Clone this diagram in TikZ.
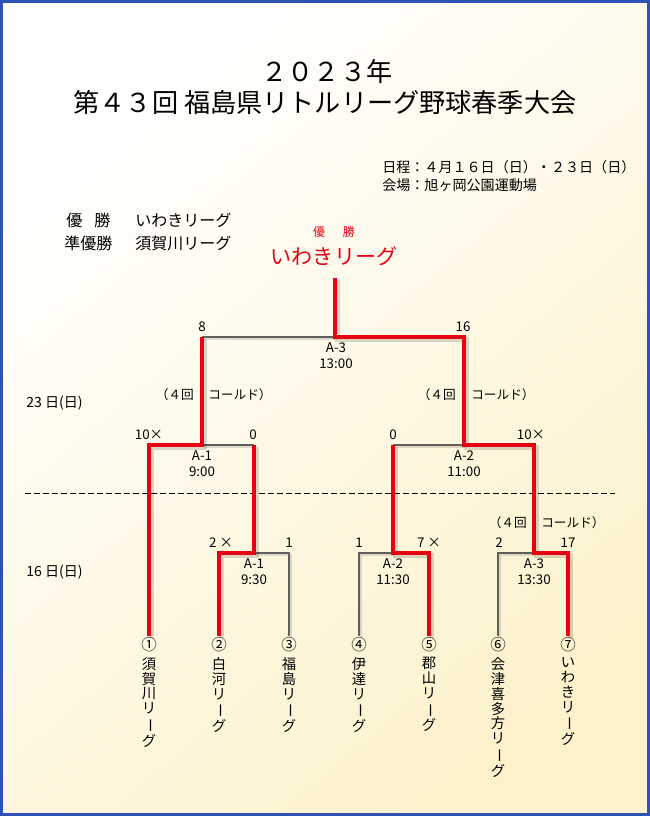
\documentclass[tikz,border=0pt]{standalone}
\usepackage{fontspec}
\setmainfont{Noto Sans CJK JP}
\usepackage{graphicx}

\definecolor{winred}{RGB}{230,0,18}
\definecolor{losegray}{RGB}{95,95,95}
\definecolor{frameblue}{RGB}{46,83,181}
\definecolor{paper}{RGB}{253,242,204}

% vertical long-vowel mark for the upright team names
\newcommand{\bou}{\rotatebox[origin=c]{-90}{ー}}

\begin{document}
\begin{tikzpicture}[
  x=0.025cm, y=-0.025cm,
  win/.style={
    draw=winred, line width=3.2pt,
    preaction={draw=black, opacity=.15, line width=3.6pt,
      transform canvas={xshift=1.5pt, yshift=-1.5pt}}
  },
  lose/.style={
    draw=losegray, line width=1.1pt,
    preaction={draw=black, opacity=.12, line width=1.6pt,
      transform canvas={xshift=1.2pt, yshift=-1.2pt}}
  },
  title/.style={font=\fontsize{18.6}{18.6}\selectfont, inner sep=0pt},
  info/.style={font=\fontsize{10}{10}\selectfont, anchor=west, inner sep=0pt},
  result/.style={font=\fontsize{11.4}{11.4}\selectfont, anchor=west, inner sep=0pt},
  day/.style={font=\fontsize{10}{10}\selectfont, anchor=west, inner sep=0pt},
  score/.style={font=\fontsize{9.5}{9.5}\selectfont, anchor=south, inner sep=1pt},
  match/.style={font=\fontsize{9.5}{11.4}\selectfont, align=center, anchor=north, inner sep=1pt},
  called/.style={font=\fontsize{9}{9}\selectfont, inner sep=0pt},
  num/.style={font=\fontsize{11}{11}\selectfont, inner sep=1pt},
  team/.style={font=\fontsize{10.2}{10.6}\selectfont, align=center, anchor=north, inner sep=0pt},
]
\useasboundingbox (0,0) rectangle (650,816);

% Paper and frame
\shade[top color=white, bottom color=paper, shading angle=40] (0,0) rectangle (650,816);
\draw[frameblue, line width=2.4pt] (1.6,1.6) rectangle (648.4,814.4);

% Title
\node[title] (year) at (327,72) {２０２３年};
\node[title] (event) at (325,103) {第４３回 福島県リトルリーグ野球春季大会};

% Date and venue
\node[info] (date) at (382,167) {日程：４月１６日（日）・２３日（日）};
\node[info] (venue) at (382,185) {会場：旭ヶ岡公園運動場};

% Final standings
\node[result] (winlbl) at (64,220) {\makebox[3em]{優\hspace{.75em}勝}};
\node[result] (winname) at (135,220) {いわきリーグ};
\node[result] (runlbl) at (64,243) {準優勝};
\node[result] (runname) at (135,243) {須賀川リーグ};

% Champion
\node[text=winred, font=\fontsize{8.5}{8.5}\selectfont, inner sep=0pt] (champlbl) at (334,232) {優\hspace{1.5em}勝};
\node[text=winred, font=\fontsize{15}{15}\selectfont, inner sep=0pt] (champ) at (334,256) {いわきリーグ};

% Day labels and divider
\node[day] (day2) at (26,403) {23 日(日)};
\node[day] (day1) at (26,572) {16 日(日)};
\draw[dashed, dash pattern=on 4pt off 2.4pt, line width=.7pt] (25,493) -- (615,493);

% Teams
\node[num] (n1) at (149,645) {①};
\node[num] (n2) at (219,645) {②};
\node[num] (n3) at (289,645) {③};
\node[num] (n4) at (359,645) {④};
\node[num] (n5) at (429,645) {⑤};
\node[num] (n6) at (498,645) {⑥};
\node[num] (n7) at (568,645) {⑦};
\node[team] (t1) at (149,657) {須\\賀\\川\\リ\\\bou\\グ};
\node[team] (t2) at (219,657) {白\\河\\リ\\\bou\\グ};
\node[team] (t3) at (289,657) {福\\島\\リ\\\bou\\グ};
\node[team] (t4) at (359,657) {伊\\達\\リ\\\bou\\グ};
\node[team] (t5) at (429,657) {郡\\山\\リ\\\bou\\グ};
\node[team] (t6) at (498,657) {会\\津\\喜\\多\\方\\リ\\\bou\\グ};
\node[team] (t7) at (568,657) {い\\わ\\き\\リ\\\bou\\グ};

% Junctions
\coordinate (r1a) at (254,553);
\coordinate (r1b) at (393,553);
\coordinate (r1c) at (534,553);
\coordinate (s1) at (202,445);
\coordinate (s2) at (464,445);
\coordinate (f) at (335,337);
\coordinate (top) at (335,278);

% Losing lines
\draw[lose] (n3.north) |- (r1a);
\draw[lose] (n4.north) |- (r1b);
\draw[lose] (n6.north) |- (r1c);
\draw[lose] (r1a |- s1) -- (s1);
\draw[lose] (r1b |- s2) -- (s2);
\draw[lose] (s1 |- f) -- (f);

% Winning lines
\draw[win] (n2.north) |- (r1a) -- (r1a |- s1);
\draw[win] (n5.north) |- (r1b) -- (r1b |- s2);
\draw[win] (n1.north) |- (s1) -- (s1 |- f);
\draw[win] (n7.north) |- (r1c) |- (s2) |- (f) -- (top);

% Scores, 16th
\node[score] (sc2) at (221,549) {2 ×};
\node[score] (sc3) at (289,549) {1};
\node[score] (sc4) at (359,549) {1};
\node[score] (sc5) at (429,549) {7 ×};
\node[score] (sc6) at (499,549) {2};
\node[score] (sc7) at (568,549) {17};

% Scores, 23rd
\node[score] (sc1) at (149,441) {10×};
\node[score] (sca) at (253,441) {0};
\node[score] (scb) at (393,441) {0};
\node[score] (scc) at (531,441) {10×};
\node[score] (scl) at (202,333) {8};
\node[score] (scr) at (463,333) {16};

% Match numbers and times
\node[match] (m1) at (254,557) {A-1\\9:30};
\node[match] (m2) at (393,557) {A-2\\11:30};
\node[match] (m3) at (534,557) {A-3\\13:30};
\node[match] (m4) at (202,449) {A-1\\9:00};
\node[match] (m5) at (464,449) {A-2\\11:00};
\node[match] (m6) at (336,341) {A-3\\13:00};

% Called games
\node[called, anchor=east] (cg1) at (194,395) {（４回};
\node[called, anchor=west] (cg1b) at (208,395) {コールド）};
\node[called, anchor=east] (cg2) at (456,395) {（４回};
\node[called, anchor=west] (cg2b) at (471,395) {コールド）};
\node[called, anchor=east] (cg3) at (527,523) {（４回};
\node[called, anchor=west] (cg3b) at (541,523) {コールド）};

\end{tikzpicture}
\end{document}
